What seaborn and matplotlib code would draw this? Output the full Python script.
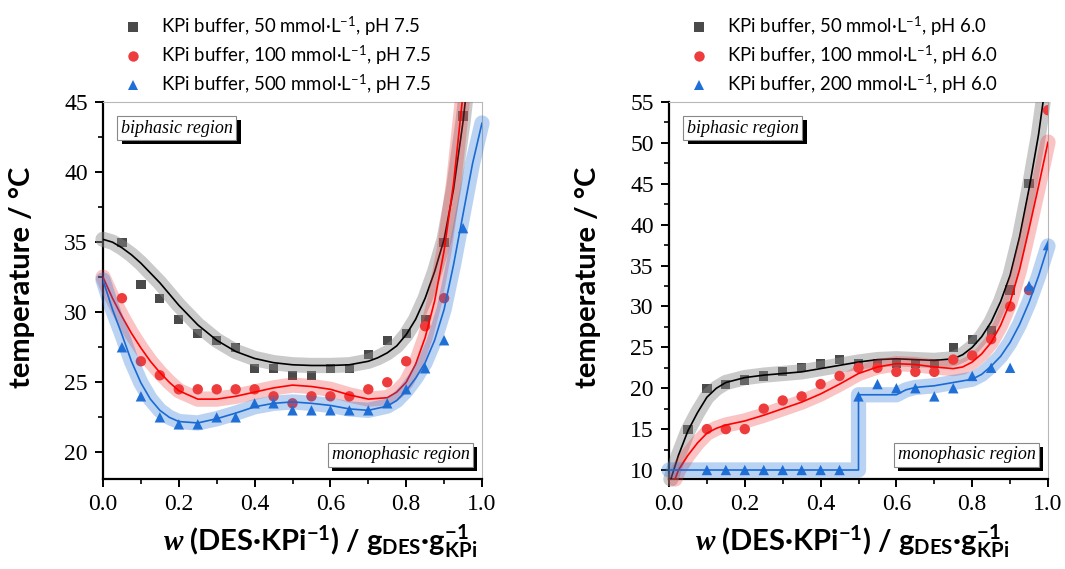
import numpy as np
import pandas as pd
import matplotlib
matplotlib.use("Agg")
import matplotlib.pyplot as plt
import seaborn as sns
from matplotlib.patches import Rectangle
from matplotlib.ticker import MultipleLocator, FormatStrFormatter
from matplotlib.lines import Line2D
import matplotlib.patheffects as pe

# ---------------- data ----------------
# left panel (pH 7.5)
w_l50 = [0.05, 0.10, 0.15, 0.20, 0.25, 0.30, 0.35, 0.40, 0.45, 0.50, 0.55, 0.60, 0.65, 0.70, 0.75, 0.80, 0.85, 0.90, 0.95]
t_l50 = [35, 32, 31, 29.5, 28.5, 28, 27.5, 26, 26, 25.5, 25.5, 26, 26, 27, 28, 28.5, 29.5, 35, 44]
w_l100 = [0.05, 0.10, 0.15, 0.20, 0.25, 0.30, 0.35, 0.40, 0.45, 0.50, 0.55, 0.60, 0.65, 0.70, 0.75, 0.80, 0.85, 0.90]
t_l100 = [31, 26.5, 25.5, 24.5, 24.5, 24.5, 24.5, 24.5, 24, 23.5, 24, 24, 24, 24.5, 25, 26.5, 29, 31]
w_l500 = [0.05, 0.10, 0.15, 0.20, 0.25, 0.30, 0.35, 0.40, 0.45, 0.50, 0.55, 0.60, 0.65, 0.70, 0.75, 0.80, 0.85, 0.90, 0.95]
t_l500 = [27.5, 24, 22.5, 22, 22, 22.5, 22.5, 23.5, 23.5, 23, 23, 23, 23, 23, 23.5, 24.5, 26, 28, 36]

# fitted curves
fw_l50 = [0.0, 0.025, 0.05, 0.075, 0.10, 0.125, 0.15, 0.175, 0.20, 0.25, 0.30, 0.35, 0.40, 0.45, 0.50, 0.55, 0.60, 0.65, 0.70, 0.725, 0.75, 0.775, 0.80, 0.825, 0.85, 0.875, 0.90, 0.925, 0.95, 0.97]
ft_l50 = [35.2, 35.0, 34.6, 34.1, 33.5, 32.8, 32.1, 31.3, 30.5, 29.1, 28.0, 27.2, 26.7, 26.4, 26.25, 26.2, 26.2, 26.25, 26.5, 26.75, 27.1, 27.6, 28.4, 29.5, 31.0, 32.9, 35.2, 38.8, 43.6, 48.5]
fw_l100 = [0.0, 0.025, 0.05, 0.075, 0.10, 0.125, 0.15, 0.175, 0.20, 0.25, 0.30, 0.35, 0.40, 0.45, 0.50, 0.55, 0.60, 0.65, 0.70, 0.75, 0.775, 0.80, 0.825, 0.85, 0.875, 0.90, 0.925, 0.95, 0.965]
ft_l100 = [32.5, 31.0, 29.7, 28.5, 27.45, 26.5, 25.7, 25.0, 24.4, 23.8, 23.8, 24.0, 24.3, 24.6, 24.8, 24.7, 24.5, 24.1, 23.8, 23.9, 24.3, 25.0, 26.3, 28.2, 30.8, 34.4, 39.2, 45.6, 49.5]
fw_l500 = [0.0, 0.025, 0.05, 0.075, 0.10, 0.125, 0.15, 0.175, 0.20, 0.25, 0.30, 0.35, 0.40, 0.45, 0.50, 0.55, 0.60, 0.65, 0.70, 0.75, 0.775, 0.80, 0.825, 0.85, 0.875, 0.90, 0.925, 0.95, 0.975, 1.0]
ft_l500 = [32.3, 30.2, 28.4, 26.5, 24.96, 23.8, 23.0, 22.5, 22.2, 22.1, 22.4, 22.8, 23.25, 23.5, 23.6, 23.5, 23.35, 23.1, 23.0, 23.3, 23.7, 24.4, 25.3, 26.4, 28.0, 30.2, 33.4, 37.0, 40.6, 43.5]

# right panel (pH 6.0)
w_r50 = [0.05, 0.10, 0.15, 0.20, 0.25, 0.30, 0.35, 0.40, 0.45, 0.50, 0.55, 0.60, 0.65, 0.70, 0.75, 0.80, 0.85, 0.90, 0.95]
t_r50 = [15, 20, 20.5, 21, 21.5, 22, 22.5, 23, 23.5, 23, 23, 23, 23, 23, 25, 26, 27, 32, 45]
w_r100 = [0.10, 0.15, 0.20, 0.25, 0.30, 0.35, 0.40, 0.45, 0.50, 0.55, 0.60, 0.65, 0.70, 0.75, 0.80, 0.85, 0.90, 0.95, 1.0]
t_r100 = [15, 15, 15, 17.5, 18.5, 19, 20.5, 21.5, 22.5, 22.5, 22, 22, 22, 23.5, 24, 26, 30, 32, 54]
w_r200 = [0.10, 0.15, 0.20, 0.25, 0.30, 0.35, 0.40, 0.45, 0.50, 0.55, 0.60, 0.65, 0.70, 0.75, 0.80, 0.85, 0.90, 0.95, 1.0]
t_r200 = [10, 10, 10, 10, 10, 10, 10, 10, 19, 20.5, 20, 20, 19, 20, 21.5, 22.5, 22.5, 32.5, 37.5]

# fitted curves
fw_r50 = [0.005, 0.025, 0.05, 0.075, 0.10, 0.125, 0.15, 0.20, 0.25, 0.30, 0.35, 0.40, 0.45, 0.50, 0.55, 0.60, 0.65, 0.70, 0.75, 0.775, 0.80, 0.825, 0.85, 0.875, 0.90, 0.925, 0.95, 0.975, 0.99]
ft_r50 = [8.9, 11.8, 14.8, 17.0, 18.9, 20.0, 20.7, 21.3, 21.6, 21.8, 22.0, 22.4, 22.8, 23.2, 23.5, 23.6, 23.5, 23.4, 23.6, 24.1, 25.0, 26.3, 28.1, 30.6, 33.8, 38.5, 44.4, 51.0, 56.0]
fw_r100 = [0.016, 0.025, 0.05, 0.075, 0.10, 0.125, 0.15, 0.20, 0.25, 0.30, 0.35, 0.40, 0.45, 0.50, 0.55, 0.60, 0.65, 0.70, 0.75, 0.775, 0.80, 0.825, 0.85, 0.875, 0.90, 0.925, 0.95, 0.975, 1.0]
ft_r100 = [8.9, 10.0, 11.8, 13.3, 14.5, 15.1, 15.5, 16.0, 16.7, 17.5, 18.3, 19.3, 20.5, 21.8, 22.6, 23.0, 22.9, 22.6, 22.4, 22.6, 23.2, 24.2, 25.6, 27.7, 30.5, 34.5, 39.5, 44.7, 50.1]
fw_r200 = [0.0, 0.50, 0.50, 0.60, 0.625, 0.65, 0.70, 0.75, 0.80, 0.825, 0.85, 0.875, 0.90, 0.925, 0.95, 0.975, 1.0]
ft_r200 = [10.0, 10.0, 19.2, 19.2, 19.8, 20.1, 20.3, 20.7, 21.1, 21.7, 22.7, 23.9, 25.6, 27.8, 30.5, 33.7, 37.4]

labels_left = ["KPi buffer, 50 mmol·L$^{\\mathregular{-1}}$, pH 7.5",
               "KPi buffer, 100 mmol·L$^{\\mathregular{-1}}$, pH 7.5",
               "KPi buffer, 500 mmol·L$^{\\mathregular{-1}}$, pH 7.5"]
labels_right = ["KPi buffer, 50 mmol·L$^{\\mathregular{-1}}$, pH 6.0",
                "KPi buffer, 100 mmol·L$^{\\mathregular{-1}}$, pH 6.0",
                "KPi buffer, 200 mmol·L$^{\\mathregular{-1}}$, pH 6.0"]

xlabel_text = "$w$ (DES·KPi$^{\\mathregular{-1}}$) / g$_{\\mathregular{DES}}$·g$_{\\mathregular{KPi}}^{\\mathregular{-1}}$"
ylabel_text = "temperature / °C"

# ---------------- style ----------------
sns.set_theme(style="white")
plt.rcParams["font.family"] = ["Lato", "DejaVu Sans"]
plt.rcParams["mathtext.fontset"] = "custom"
plt.rcParams["mathtext.it"] = "Liberation Serif:italic:bold"
plt.rcParams["mathtext.rm"] = "Lato"
plt.rcParams["text.color"] = "black"
plt.rcParams["axes.labelcolor"] = "black"
plt.rcParams["xtick.color"] = "black"
plt.rcParams["ytick.color"] = "black"

marker_cols = ["#4a4a4a", "#ee3b3b", "#1f6fd6"]
line_cols = ["#000000", "#ff0000", "#1a6ad4"]
band_cols = ["#8a8a8a", "#f03c3c", "#1f6fd6"]
band_alpha = [0.45, 0.30, 0.30]
markers = ["s", "o", "^"]
msizes = [44, 56, 56]

fig = plt.figure(figsize=(10.65, 5.69), dpi=100)
ax_l = fig.add_axes([103 / 1065, 1 - 479 / 569, 379 / 1065, 377 / 569])
ax_r = fig.add_axes([669 / 1065, 1 - 479 / 569, 379 / 1065, 377 / 569])


def draw_panel(ax, pts, fits, ylim, labels, leg_x, xlab_x):
    for i, ((wx, ty), (fx, fy)) in enumerate(zip(pts, fits)):
        sns.scatterplot(x=wx, y=ty, marker=markers[i], s=msizes[i], color=marker_cols[i],
                        edgecolor="none", linewidth=0, ax=ax, zorder=3 + 3 * i, legend=False)
        sns.lineplot(x=fx, y=fy, sort=False, estimator=None, ax=ax, color=band_cols[i],
                     alpha=band_alpha[i], linewidth=11, solid_capstyle="round",
                     solid_joinstyle="round", zorder=4 + 3 * i, legend=False)
        band = ax.lines[-1]
        clip = Rectangle((-0.06, -0.05), 1.12, 1.05, transform=ax.transAxes,
                         facecolor="none", edgecolor="none")
        band.set_clip_path(clip)
        sns.lineplot(x=fx, y=fy, sort=False, estimator=None, ax=ax, color=line_cols[i],
                     linewidth=1.2, zorder=5 + 3 * i, legend=False)
    ax.set_xlim(0, 1)
    ax.set_ylim(*ylim)
    ax.xaxis.set_major_locator(MultipleLocator(0.2))
    ax.xaxis.set_minor_locator(MultipleLocator(0.1))
    ax.yaxis.set_major_locator(MultipleLocator(5))
    ax.yaxis.set_minor_locator(MultipleLocator(2.5))
    ax.xaxis.set_major_formatter(FormatStrFormatter("%.1f"))
    ax.yaxis.set_major_formatter(FormatStrFormatter("%d"))
    ax.tick_params(which="both", direction="out", left=True, bottom=True, top=False, right=False,
                   colors="black", labelfontfamily="Liberation Serif")
    ax.tick_params(which="major", length=6, width=1.4, labelsize=17, pad=5)
    ax.tick_params(which="minor", length=3.5, width=1.2)
    for s in ["left", "bottom"]:
        ax.spines[s].set_color("black")
        ax.spines[s].set_linewidth(1.6)
    for s in ["top", "right"]:
        ax.spines[s].set_color("#b8b8b8")
        ax.spines[s].set_linewidth(0.8)
    ax.set_xlabel(xlabel_text, fontsize=21, fontweight="bold", color="black")
    ax.xaxis.set_label_coords(xlab_x, -0.115)
    ax.set_ylabel(ylabel_text, fontsize=21, fontweight="bold", color="black")
    ax.yaxis.set_label_coords(-0.18, 0.535)

    handles = [Line2D([], [], linestyle="none", marker=markers[i], color=marker_cols[i],
                      markeredgewidth=0, markersize=np.sqrt(msizes[i])) for i in range(3)]
    ax.legend(handles, labels, loc="upper left", bbox_to_anchor=(leg_x, 0.974),
              bbox_transform=fig.transFigure, frameon=False, fontsize=13.4,
              borderpad=0, borderaxespad=0, handlelength=1.0, handletextpad=1.0,
              labelspacing=0.3)

    def boxed(x, y, txt):
        t = ax.text(x, y, txt, transform=ax.transAxes, ha="center", va="center",
                    fontsize=13, family="Liberation Serif", style="italic", color="black",
                    bbox=dict(boxstyle="square,pad=0.2", facecolor="white", edgecolor="#888888",
                              linewidth=0.8),
                    zorder=21)
        t.get_bbox_patch().set_path_effects(
            [pe.SimplePatchShadow(offset=(3, -3), shadow_rgbFace="black", alpha=1.0), pe.Normal()])

    boxed(0.195, 0.931, "biphasic region")
    boxed(0.785, 0.064, "monophasic region")


draw_panel(ax_l,
           [(w_l50, t_l50), (w_l100, t_l100), (w_l500, t_l500)],
           [(fw_l50, ft_l50), (fw_l100, ft_l100), (fw_l500, ft_l500)],
           (18.1, 45), labels_left, 124 / 1065, 0.574)
draw_panel(ax_r,
           [(w_r50, t_r50), (w_r100, t_r100), (w_r200, t_r200)],
           [(fw_r50, ft_r50), (fw_r100, ft_r100), (fw_r200, ft_r200)],
           (8.9, 55), labels_right, 690 / 1065, 0.484)

fig.savefig("out.png", dpi=100)
